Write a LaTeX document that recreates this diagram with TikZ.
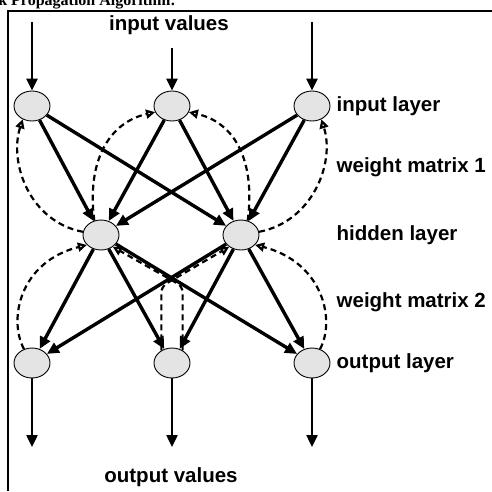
\documentclass[tikz,border=0pt]{standalone}
\usepackage{fontspec}
\setmainfont{Liberation Sans}
\newfontfamily\titlefont{Liberation Serif}
\usetikzlibrary{shapes.geometric, arrows.meta, positioning}
\definecolor{neuronfill}{HTML}{E4E4E4}
\tikzset{
  neuron/.style={
    ellipse, draw=black, line width=0.9pt, fill=neuronfill,
    minimum width=36pt, minimum height=30pt, inner sep=0pt
  },
  forward/.style={
    -{Triangle[length=12pt, width=11pt]}, line width=3.4pt
  },
  feed/.style={
    -{Triangle[length=12pt, width=11pt]}, line width=2.4pt
  },
  backward/.style={
    -{Triangle[open, length=9pt, width=9pt]}, line width=2.2pt,
    dash pattern=on 6pt off 4pt
  },
  layerlabel/.style={
    font=\fontsize{20.5}{24}\selectfont\bfseries, inner sep=0pt
  }
}

\begin{document}
\begin{tikzpicture}[x=1pt, y=1pt]
  \useasboundingbox (0,0) rectangle (492,-491);

  % Title, cut by the page edge
  \node[anchor=base east, inner sep=0pt,
        font=\titlefont\fontsize{16}{19}\selectfont\bfseries] (title) at (176,-5)
        {Back Propagation Algorithm:};

  % Frame
  \draw[line width=2pt] (8,-491) -- (8,-11) -- (492,-11);

  % Neurons
  \node[neuron] (I1) at (32,-106) {};
  \node[neuron] (I2) at (172,-106) {};
  \node[neuron] (I3) at (312,-106) {};
  \node[neuron] (H1) at (101,-235) {};
  \node[neuron] (H2) at (241,-235) {};
  \node[neuron] (O1) at (32,-363) {};
  \node[neuron] (O2) at (172,-363) {};
  \node[neuron] (O3) at (312,-363) {};

  % Free ends of the input and output arrows
  \coordinate (src1) at (32,-22);
  \coordinate (src2) at (172,-48);
  \coordinate (src3) at (312,-22);
  \coordinate (dst1) at (32,-447);
  \coordinate (dst2) at (172,-447);
  \coordinate (dst3) at (312,-447);

  % Labels
  \node[layerlabel] (invals) at (169,-25) {input values};
  \node[layerlabel] (outvals) at (171,-477) {output values};
  \node[layerlabel, right=6pt of I3] (inlayer) {input layer};
  \node[layerlabel, anchor=west] (wm1) at (inlayer.west |- 0,-167) {weight matrix 1};
  \node[layerlabel, anchor=west] (hidlayer) at (inlayer.west |- H2) {hidden layer};
  \node[layerlabel, anchor=west] (wm2) at (inlayer.west |- 0,-302) {weight matrix 2};
  \node[layerlabel, anchor=west] (outlayer) at (inlayer.west |- O3) {output layer};

  % Inputs and outputs
  \foreach \i in {1,2,3} {
    \draw[feed] (src\i) -- (I\i);
    \draw[feed] (O\i) -- (dst\i);
  }

  % Forward pass
  \foreach \i in {1,2,3} {
    \foreach \h in {1,2} {
      \draw[forward] (I\i) -- (H\h);
      \draw[forward] (H\h) -- (O\i);
    }
  }

  % Error fed back, weight matrix 1
  \draw[backward] (H1.170) .. controls +(-53,10) and +(-14,-44) .. (I1.235);
  \draw[backward] (H1.115) .. controls +(-8,61) and +(-45,-10) .. (I2.200);
  \draw[backward] (H2.65) .. controls +(8,61) and +(45,-10) .. (I2.340);
  \draw[backward] (H2.10) .. controls +(53,10) and +(14,-44) .. (I3.305);

  % Error fed back, weight matrix 2
  \draw[backward] (O1.120) .. controls +(-16,30) and +(-67,-17) .. (H1.215);
  \draw[backward, rounded corners=6pt] (O2.50) -- ++(0,64) -- (H1.315);
  \draw[backward, rounded corners=6pt] (O2.130) -- ++(0,64) -- (H2.225);
  \draw[backward] (O3.60) .. controls +(16,30) and +(67,-17) .. (H2.325);

\end{tikzpicture}
\end{document}
